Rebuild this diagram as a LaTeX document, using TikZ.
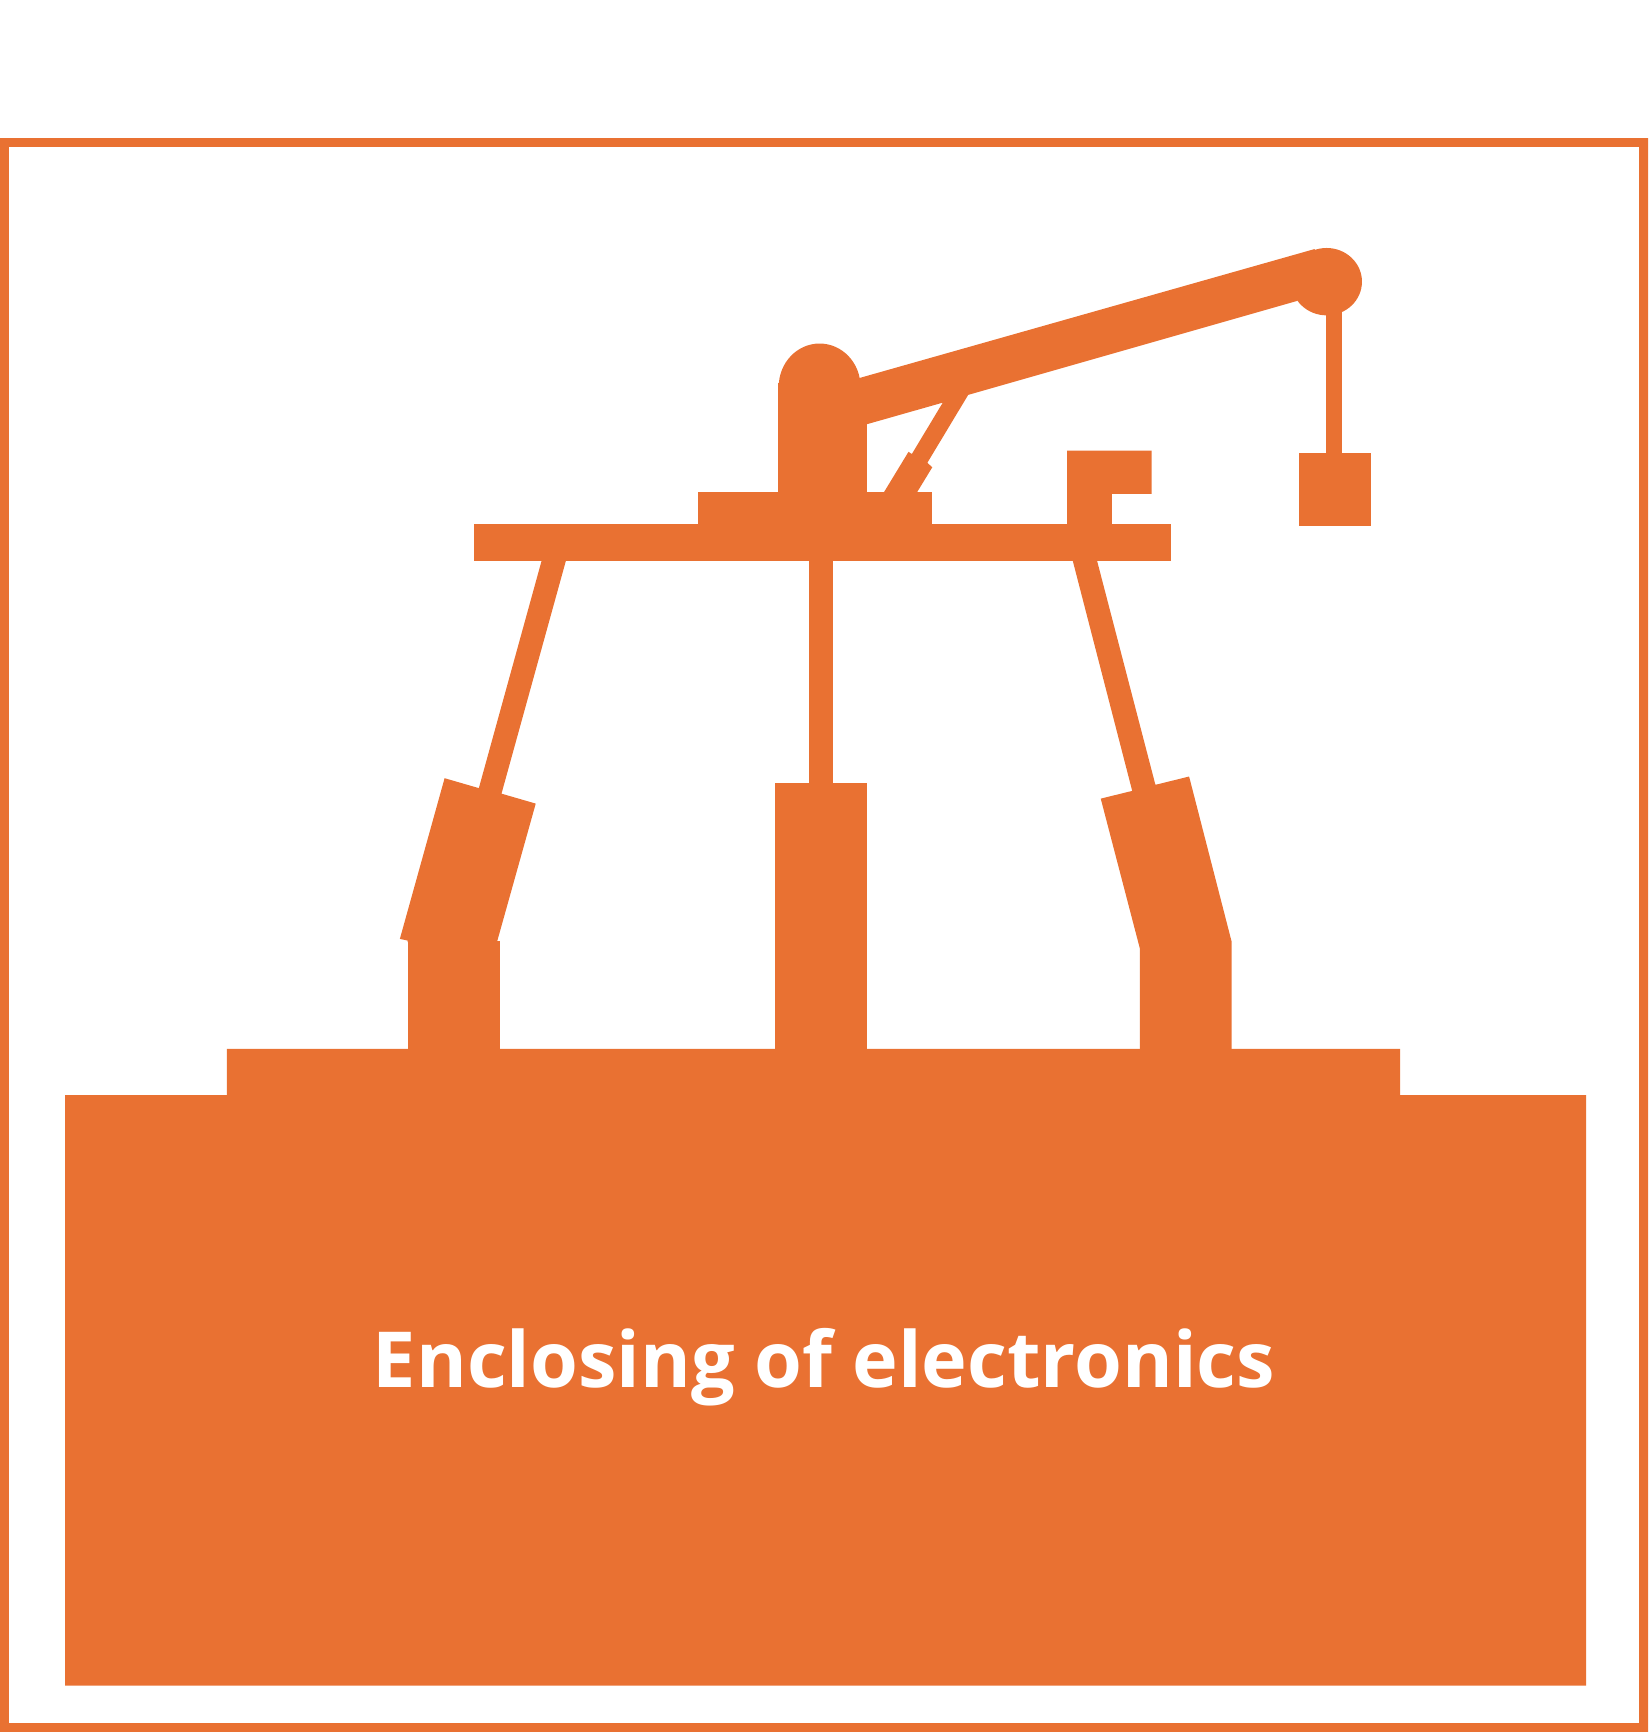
\documentclass[tikz,border=0pt]{standalone}
\usepackage{fontspec}
\setmainfont{Open Sans}[BoldFont={Open Sans Bold},BoldFeatures={FakeStretch=1.0}]
\definecolor{brandorange}{HTML}{E97132}
\tikzset{solidpart/.style={fill=brandorange,draw=none}}
\begin{document}
\begin{tikzpicture}[x=1pt,y=-1pt]
\useasboundingbox (0,0) rectangle (1492,1568);
% frame
\fill[brandorange,even odd rule] (0,125) rectangle (1492,1568) (8,133) rectangle (1484,1560);
% base
\fill[solidpart] (59,991.5) -- (205.5,991.5) -- (205.5,949.5) -- (1267.5,949.5) -- (1267.5,991.5) -- (1436,991.5) -- (1436,1526) -- (59,1526) -- cycle;
% left leg
\fill[solidpart] (369,852) rectangle (452.5,950);
\fill[solidpart] (402.5,704.5) -- (433.5,713.5) -- (490.5,507) -- (512.5,507) -- (454,718.5) -- (485,727.5) -- (450,852.5) -- (369,853) -- (369,851.5) -- (362,850) -- cycle;
% centre leg
\fill[solidpart] (702,709) rectangle (785,950);
\fill[solidpart] (732,507) rectangle (754,710);
% right leg
\fill[solidpart] (971,507) -- (993,507) -- (1046,710.5) -- (1076.5,703) -- (1115,852.5) -- (1115,950) -- (1032,950) -- (1032,859) -- (996.5,723) -- (1025,716) -- cycle;
% platform
\fill[solidpart] (429,474) rectangle (1060,508);
\fill[solidpart] (632,445) rectangle (844,475);
% hook
\fill[solidpart] (966,408) -- (1042.5,408) -- (1042.5,447) -- (1006.5,447) -- (1006.5,475) -- (966,475) -- cycle;
% column and dome
\fill[solidpart] (704.5,347) rectangle (785,446);
\fill[solidpart] (742,350) ellipse [x radius=37,y radius=39];
% arm
\fill[solidpart] (770,344.5) -- (1190,225.5) -- (1205,250) -- (1174,272.5) -- (876.5,357.5) -- (839.5,419) -- (844,423) -- (830,446) -- (800,446) -- (822.5,409) -- (825.5,411) -- (853.5,364.5) -- (785,384) -- (770,384) -- cycle;
% arm end, cable, weight
\fill[solidpart] (1201,255) ellipse [x radius=32,y radius=30.5];
\fill[solidpart] (1200.5,270) rectangle (1215,411);
\fill[solidpart] (1176,410) rectangle (1241.5,476.5);
% label
\node[text=white,font=\bfseries\fontsize{70}{80}\selectfont,inner sep=0pt,anchor=base] (title) at (746,1256) {Enclosing of electronics};
\end{tikzpicture}
\end{document}
